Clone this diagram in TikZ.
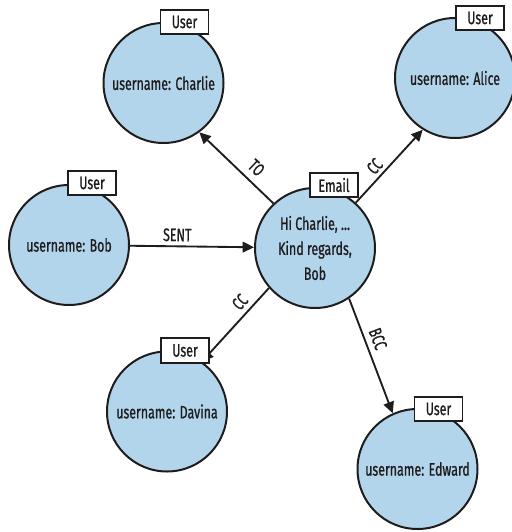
\documentclass[tikz,border=0pt]{standalone}
\usepackage{fontspec}
\setmainfont{Fira Sans}[FakeStretch=0.69, FakeBold=0.8]
\usetikzlibrary{arrows.meta,calc}
\definecolor{nodefill}{RGB}{179,213,235}
\definecolor{ink}{RGB}{30,28,28}
\tikzset{
  entity/.style={circle, draw=ink, line width=1.5pt, fill=nodefill,
    minimum size=90pt, inner sep=0pt, align=center, text=ink},
  tagbox/.style={rectangle, draw=ink, line width=1.3pt, fill=white,
    minimum width=36pt, minimum height=18.5pt, inner sep=0pt, text=ink},
  rel/.style={draw=ink, line width=1.4pt, -{Triangle[length=8.5pt,width=8pt]}},
  rellabel/.style={text=ink, inner sep=1pt, sloped},
}
\begin{document}
\begin{tikzpicture}[x=0.75pt, y=-0.75pt,
  every node/.append style={font=\fontsize{13.5}{18.75}\selectfont}]
\useasboundingbox (0,0) rectangle (511,532);

% entities
\node[entity] (charlie) at (163.5,83)  {username: Charlie};
\node[entity] (alice)   at (455,78)    {username: Alice};
\node[entity] (bob)     at (69,245)    {username: Bob};
\node[entity] (email)   at (315,248)   {Hi Charlie, ...\\Kind regards,\\Bob};
\node[entity] (davina)  at (167,411.5) {username: Davina};
\node[entity] (edward)  at (417.5,469) {username: Edward};

% relationships
\draw[rel] (bob) -- node[rellabel, pos=0.38, above=2pt] {SENT} (email);
\draw[rel] (email.133) -- node[rellabel, pos=0.36, above=4pt] {TO} (charlie.306);
\draw[rel] (email.48) -- node[rellabel, pos=0.40, above=1.5pt] {CC} (alice.238);
\draw[rel] (email.221.6) -- node[rellabel, pos=0.30, above=2.5pt] {CC} (davina.55.8);
\draw[rel] (email.304) -- node[rellabel, pos=0.39, above=3pt] {BCC} (edward.114);

% type tags
\node[tagbox] (charlieTag) at ($(charlie)+(21,-61)$) {User};
\node[tagbox] (aliceTag)   at ($(alice)+(25,-60)$)   {User};
\node[tagbox] (bobTag)     at ($(bob)+(23,-62)$)     {User};
\node[tagbox] (emailTag)   at ($(email)+(19,-63)$)   {Email};
\node[tagbox] (davinaTag)  at ($(davina)+(18,-61)$)  {User};
\node[tagbox] (edwardTag)  at ($(edward)+(21,-60)$)  {User};
\end{tikzpicture}
\end{document}
